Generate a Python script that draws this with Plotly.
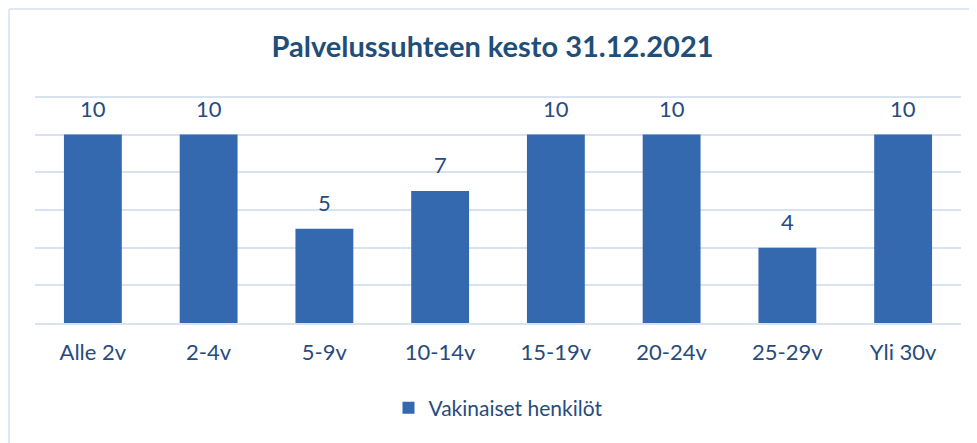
import plotly.graph_objects as go

categories = ["Alle 2v", "2-4v", "5-9v", "10-14v", "15-19v", "20-24v", "25-29v", "Yli 30v"]
values = [10, 10, 5, 7, 10, 10, 4, 10]
series_name = "Vakinaiset henkilöt"
title_text = "Palvelussuhteen kesto 31.12.2021"

# page offset (browser body margin) compensation
OFF = 8
W, H = 977 - OFF, 443 - OFF
y_max = 12.1
base_y = 323 - OFF          # pixel of value 0
top12_y = 97 - OFF          # pixel of value 12
unit = (base_y - top12_y) / 12.0
mt = round(base_y - unit * y_max)
mb = H - base_y
ml = 35 - OFF
mr = W - (961 - OFF)
ph = H - mt - mb
pw = W - ml - mr

txt_color = "#274b7c"
font_family = "Lato, 'Open Sans', sans-serif"

fig = go.Figure()
fig.add_trace(go.Bar(
    x=categories, y=values, name=series_name,
    marker=dict(color="#3469b0", line=dict(width=0)),
    showlegend=True,
))

for c, v in zip(categories, values):
    fig.add_annotation(x=c, y=v, text=str(v), showarrow=False,
                       yanchor="bottom", yshift=11,
                       font=dict(size=22, color=txt_color, family=font_family))

# outer chart-area border (left & top visible)
bx = (1 - ml) / pw
by = (H - 1 - mb) / ph
fig.add_shape(type="line", xref="paper", yref="paper",
              x0=bx, x1=bx, y0=(-mb - 5) / ph, y1=by,
              line=dict(color="#d4e2f2", width=1.5))
fig.add_shape(type="line", xref="paper", yref="paper",
              x0=bx, x1=(W + 5 - ml) / pw, y0=by, y1=by,
              line=dict(color="#d4e2f2", width=1.5))

fig.update_layout(
    width=W, height=H,
    margin=dict(l=ml, r=mr, t=mt, b=mb, autoexpand=False),
    paper_bgcolor="white", plot_bgcolor="white",
    bargap=0.5,
    title=dict(text="<b>" + title_text + "</b>", x=0.5, xanchor="center",
               y=1 - (47 - OFF) / H, yanchor="middle",
               font=dict(size=29, color="#1f4e79", family=font_family)),
    font=dict(family=font_family, color=txt_color, size=20),
    xaxis=dict(showgrid=False, showline=True, linecolor="#d9e3f0", linewidth=2,
               ticks="", ticklabelstandoff=9,
               tickfont=dict(size=22, color=txt_color, family=font_family)),
    yaxis=dict(range=[0, y_max], tickvals=[0, 2, 4, 6, 8, 10, 12], showticklabels=False,
               showgrid=True, gridcolor="#d9e3f0", gridwidth=2, zeroline=False,
               fixedrange=True),
    legend=dict(orientation="h", x=0.5, xanchor="center", y=(base_y - (408 - OFF)) / ph,
                yanchor="middle", font=dict(size=21, color=txt_color, family=font_family)),
)

fig.write_html("out.html")
